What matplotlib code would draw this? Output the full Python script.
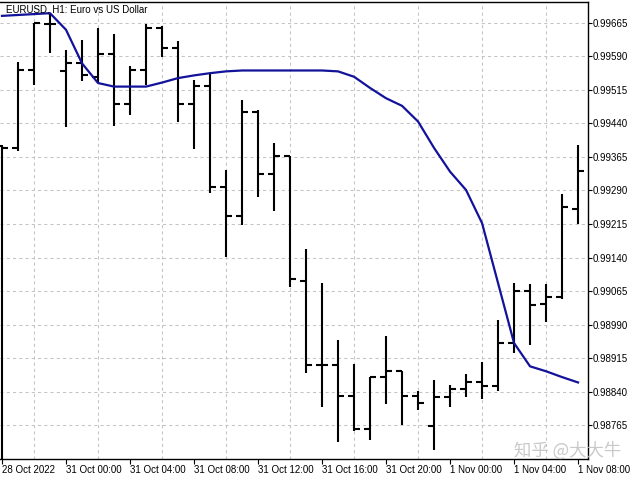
import matplotlib
matplotlib.use("Agg")
import matplotlib.pyplot as plt

plt.rcParams['font.family'] = ['Liberation Sans', 'DejaVu Sans']

title = "EURUSD, H1: Euro vs US Dollar"
watermark = "知乎 @大大牛"

# hourly bars: 28 Oct 2022 20:00 ... 1 Nov 2022 08:00
bar_index = list(range(37))
opens = [0.99390, 0.99385, 0.99559, 0.99662, 0.99556, 0.99574, 0.99544, 0.99594,
         0.99483, 0.99558, 0.99652, 0.99608, 0.99483, 0.99524, 0.99297, 0.99233,
         0.99466, 0.99327, 0.99366, 0.99087, 0.98901, 0.98901, 0.98830, 0.98757,
         0.98873, 0.98886, 0.98831, 0.98764, 0.98828, 0.98846, 0.98862, 0.98852,
         0.98950, 0.99066, 0.99037, 0.99053, 0.99249]
highs = [0.99392, 0.99578, 0.99664, 0.99686, 0.99604, 0.99626, 0.99652, 0.99639,
         0.99567, 0.99662, 0.99658, 0.99623, 0.99537, 0.99552, 0.99336, 0.99492,
         0.99470, 0.99396, 0.99368, 0.99159, 0.99083, 0.98956, 0.98903, 0.98874,
         0.98964, 0.98887, 0.98843, 0.98867, 0.98856, 0.98880, 0.98906, 0.99001,
         0.99083, 0.99081, 0.99081, 0.99282, 0.99392]
lows = [0.98644, 0.99377, 0.99526, 0.99597, 0.99431, 0.99535, 0.99530, 0.99435,
        0.99459, 0.99526, 0.99588, 0.99442, 0.99382, 0.99284, 0.99142, 0.99212,
        0.99275, 0.99245, 0.99074, 0.98882, 0.98806, 0.98729, 0.98753, 0.98733,
        0.98813, 0.98767, 0.98799, 0.98709, 0.98807, 0.98828, 0.98824, 0.98841,
        0.98927, 0.98945, 0.98995, 0.99047, 0.99215]
closes = [0.99385, 0.99559, 0.99664, 0.99661, 0.99574, 0.99547, 0.99594, 0.99483,
          0.99558, 0.99652, 0.99608, 0.99483, 0.99524, 0.99297, 0.99233, 0.99466,
          0.99327, 0.99366, 0.99093, 0.98901, 0.98901, 0.98830, 0.98757, 0.98873,
          0.98886, 0.98831, 0.98816, 0.98828, 0.98846, 0.98862, 0.98854, 0.98950,
          0.99066, 0.99035, 0.99053, 0.99253, 0.99334]
ma_values = [0.99680, 0.99682, 0.99684, 0.99686, 0.99649, 0.99574, 0.99530, 0.99522,
             0.99522, 0.99522, 0.99531, 0.99541, 0.99547, 0.99552, 0.99556, 0.99558,
             0.99558, 0.99558, 0.99558, 0.99558, 0.99558, 0.99556, 0.99544, 0.99519,
             0.99496, 0.99479, 0.99444, 0.99385, 0.99332, 0.99291, 0.99217, 0.99083,
             0.98949, 0.98897, 0.98886, 0.98873, 0.98861]

price_ticks = [0.98765, 0.98840, 0.98915, 0.98990, 0.99065, 0.99140, 0.99215,
               0.99290, 0.99365, 0.99440, 0.99515, 0.99590, 0.99665]
time_tick_index = [0, 4, 8, 12, 16, 20, 24, 28, 32, 36]
time_labels = ["28 Oct 2022", "31 Oct 00:00", "31 Oct 04:00", "31 Oct 08:00",
               "31 Oct 12:00", "31 Oct 16:00", "31 Oct 20:00", "1 Nov 00:00",
               "1 Nov 04:00", "1 Nov 08:00"]

W, H = 640, 480
fig = plt.figure(figsize=(6.4, 4.8), dpi=100)
ax = fig.add_axes([0, 1 - 459 / H, 587.5 / W, (459 - 2) / H])
ax.set_xlim(-0.125, 36.59)
ax.set_ylim(0.98690, 0.99711)

grid_style = dict(color='#c4c4c4', linewidth=0.75, linestyle=(0, (3, 3)))
ax.set_yticks(price_ticks)
ax.set_yticklabels([f"{v:.5f}" for v in price_ticks])
ax.yaxis.tick_right()
ax.yaxis.grid(True, **grid_style)

ax.set_xticks(time_tick_index)
ax.set_xticklabels(time_labels)
for lab in ax.get_xticklabels():
    lab.set_horizontalalignment('left')
ax.set_xticks(list(range(0, 37, 2)), minor=True)
ax.xaxis.grid(True, which='minor', **grid_style)
ax.xaxis.grid(False, which='major')

ax.tick_params(axis='y', direction='out', length=3, width=0.8, pad=1,
               labelsize=7, colors='black')
ax.tick_params(axis='x', which='major', direction='out', length=3.5, width=0.8,
               pad=0.5, labelsize=7)
ax.tick_params(axis='x', which='minor', length=0)

ax.spines['left'].set_visible(False)
for s in ('top', 'right', 'bottom'):
    ax.spines[s].set_linewidth(1.0)
    ax.spines[s].set_color('black')

tick_len = 0.35
ax.vlines(bar_index, lows, highs, color='black', linewidth=1.5, zorder=2)
ax.hlines(opens, [k - tick_len for k in bar_index], bar_index,
          color='black', linewidth=1.5, zorder=2)
ax.hlines(closes, bar_index, [k + tick_len for k in bar_index],
          color='black', linewidth=1.5, zorder=2)

ax.plot(bar_index, ma_values, color='#12129a', linewidth=1.6, zorder=3,
        solid_joinstyle='round')

fig.text(6.5 / W, 1 - 12.7 / H, title, fontsize=7, va='baseline', ha='left',
         color='black')

fig.text(568 / W, 1 - 451 / H, watermark, fontsize=12.5, color='#c0c0c0',
         alpha=0.85, ha='center', va='center',
         family=['Noto Sans CJK SC', 'DejaVu Sans'], zorder=10)

fig.savefig("out.png", dpi=100)
